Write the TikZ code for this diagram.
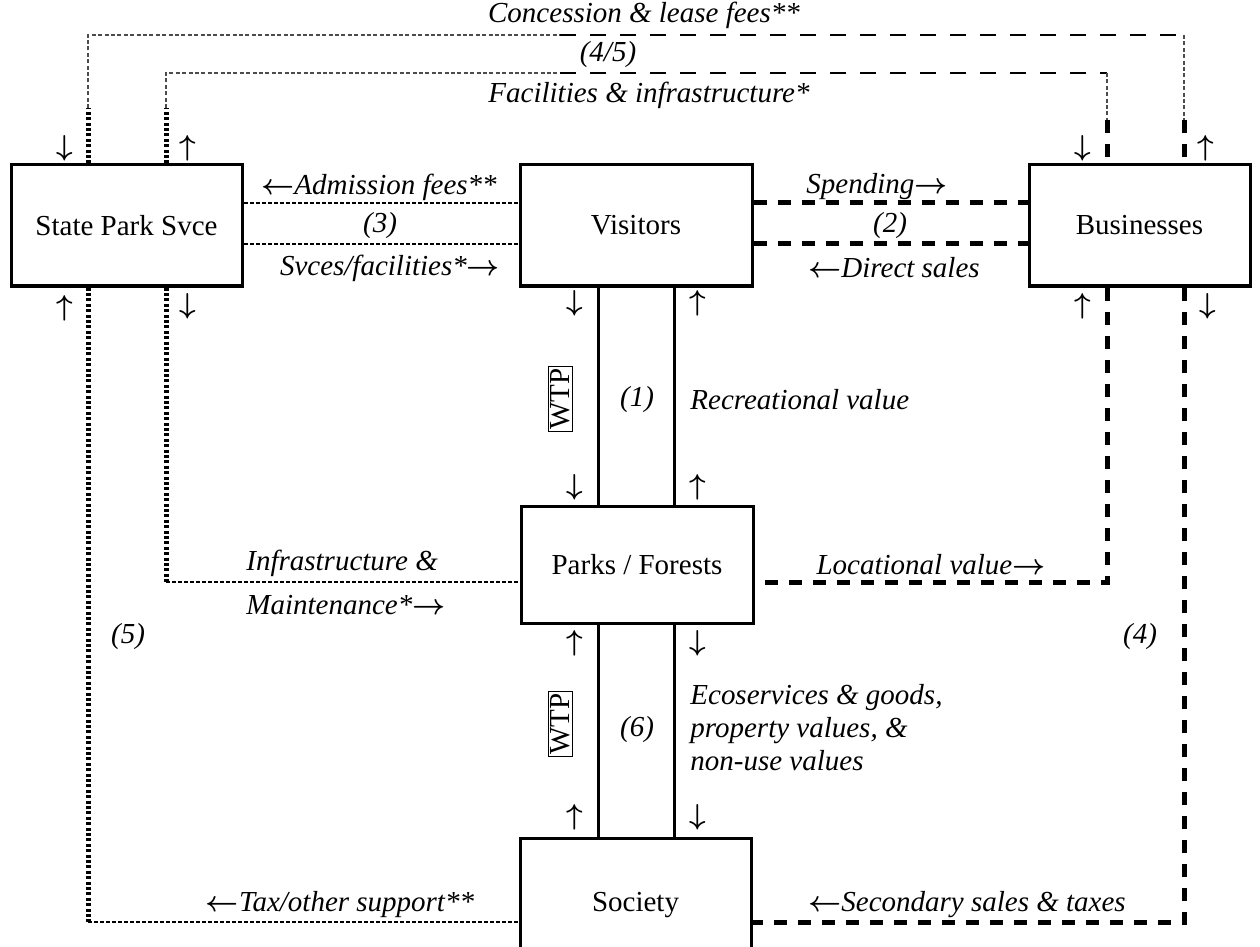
\documentclass[tikz,border=0pt]{standalone}
\usepackage{fontspec}
\setmainfont{Liberation Serif}
\newcommand{\ua}{{\boldmath$\uparrow$}}
\newcommand{\da}{{\boldmath$\downarrow$}}
\newcommand{\la}{{\boldmath$\leftarrow$}}
\newcommand{\ra}{{\boldmath$\rightarrow$}}
\begin{document}
\begin{tikzpicture}[x=0.5pt,y=-0.5pt,
  box/.style={draw,line width=1.5pt,inner sep=0pt,font=\fontsize{14.5pt}{16.5pt}\selectfont},
  lab/.style={inner sep=0pt,font=\fontsize{14.5pt}{16.5pt}\selectfont\itshape},
  rm/.style={inner sep=0pt,font=\fontsize{14.5pt}{16.5pt}\selectfont},
  solidln/.style={line width=1.5pt},
  bigdash/.style={line width=2.5pt,dash pattern=on 6.5pt off 5.5pt},
  smalldash/.style={line width=0.55pt,dash pattern=on 2pt off 1pt},
  dotline/.style={line width=2.5pt,dash pattern=on 1.5pt off 1.2pt},
  thindot/.style={line width=0.6pt,black!70,dash pattern=on 2pt off 1.2pt},
  longdash/.style={line width=0.6pt,dash pattern=on 8pt off 7pt},
]
\useasboundingbox (0,0) rectangle (1260,947);
\clip (0,0) rectangle (1260,947);

% boxes
\node[box,minimum width=115.5pt,minimum height=60.5pt] (sps) at (126.5,225.5) {State Park Svce};
\node[box,minimum width=116pt,minimum height=60.5pt] (vis) at (636,225.5) {Visitors};
\node[box,minimum width=110.5pt,minimum height=60.5pt] (bus) at (1139.5,225.5) {Businesses};
\node[box,minimum width=116pt,minimum height=58.5pt] (park) at (637,564.5) {Parks / Forests};
\node[box,minimum width=115.5pt,minimum height=67pt] (soc) at (635.5,905) {Society};

% helper coordinates
\coordinate (yA) at (0,203);
\coordinate (yB) at (0,244);
\coordinate (yT1) at (0,35);
\coordinate (yT2) at (0,73);
\coordinate (ySL) at (0,108);
\coordinate (ySR) at (0,120);
\coordinate (yMid) at (0,582);
\coordinate (yBot) at (0,922);
\coordinate (xL1) at (88,0);
\coordinate (xL2) at (166,0);
\coordinate (xR1) at (1107,0);
\coordinate (xR2) at (1184,0);
\coordinate (xW1) at (598,0);
\coordinate (xW2) at (674,0);
\coordinate (xS) at (560,0);

% solid connectors (1) and (6)
\draw[solidln] (vis.south -| xW1) -- (park.north -| xW1);
\draw[solidln] (vis.south -| xW2) -- (park.north -| xW2);
\draw[solidln] (park.south -| xW1) -- (soc.north -| xW1);
\draw[solidln] (park.south -| xW2) -- (soc.north -| xW2);

% (3) SPS - Visitors
\draw[smalldash] (sps.east |- yA) -- (vis.west |- yA);
\draw[smalldash] (sps.east |- yB) -- (vis.west |- yB);

% (2) Visitors - Businesses
\draw[bigdash] (vis.east |- yA) -- (bus.west |- yA);
\draw[bigdash] (vis.east |- yB) -- (bus.west |- yB);

% (5) SPS - Parks / Society
\draw[dotline] (sps.south -| xL2) -- (xL2 |- yMid);
\draw[smalldash] (xL2 |- yMid) -- (park.west |- yMid);
\draw[dotline] (sps.south -| xL1) -- (xL1 |- yBot);
\draw[smalldash] (xL1 |- yBot) -- (soc.west |- yBot);

% (4) Businesses - Parks / Society
\draw[bigdash] (bus.south -| xR1) |- (park.east |- yMid);
\draw[bigdash] (bus.south -| xR2) |- (soc.east |- yBot);

% (4/5) SPS - Businesses (top)
\draw[dotline] (sps.north -| xL1) -- (xL1 |- ySL);
\draw[thindot] (xL1 |- ySL) |- (xS |- yT1);
\draw[longdash] (xS |- yT1) -- (xR2 |- yT1);
\draw[thindot] (xR2 |- yT1) -- (xR2 |- ySR);
\draw[bigdash] (xR2 |- ySR) -- (bus.north -| xR2);

\draw[dotline] (sps.north -| xL2) -- (xL2 |- ySL);
\draw[thindot] (xL2 |- ySL) |- (xS |- yT2);
\draw[longdash] (xS |- yT2) -- (xR1 |- yT2);
\draw[thindot] (xR1 |- yT2) -- (xR1 |- ySR);
\draw[bigdash] (xR1 |- ySR) -- (bus.north -| xR1);

% direction arrows
\node[rm] (a1) at (65,148) {\da};
\node[rm] (a2) at (188,148) {\ua};
\node[rm] (a3) at (65,308) {\ua};
\node[rm] (a4) at (188,306) {\da};
\node[rm] (a5) at (1083,148) {\da};
\node[rm] (a6) at (1206,148) {\ua};
\node[rm] (a7) at (1083,306) {\ua};
\node[rm] (a8) at (1208,306) {\da};
\node[rm] (a9) at (575,303) {\da};
\node[rm] (a10) at (575,487) {\da};
\node[rm] (a11) at (698,303) {\ua};
\node[rm] (a12) at (698,487) {\ua};
\node[rm] (a13) at (575,643) {\ua};
\node[rm] (a14) at (575,817) {\ua};
\node[rm] (a15) at (698,643) {\da};
\node[rm] (a16) at (698,817) {\da};

% WTP boxes
\node[rm,draw,line width=0.5pt,rotate=90,inner sep=1pt] (wtp1) at (560.5,399) {WTP};
\node[rm,draw,line width=0.5pt,rotate=90,inner sep=1pt] (wtp2) at (560.5,724) {WTP};

% labels
\node[lab] (tConc) at (644,15) {Concession \& lease fees**};
\node[lab] (t45) at (608,55) {(4/5)};
\node[lab] (tFac) at (649,95) {Facilities \& infrastructure*};
\node[lab] (tAdm) at (379,187) {\la Admission fees**};
\node[lab] (t3) at (380,226) {(3)};
\node[lab] (tSvc) at (390,268) {Svces/facilities*\ra};
\node[lab] (tSpend) at (877,187) {Spending\ra};
\node[lab] (t2) at (890,226) {(2)};
\node[lab] (tDir) at (894,268) {\la Direct sales};
\node[lab,anchor=west] (tInf) at (246,563) {Infrastructure \&};
\node[lab,anchor=west] (tMai) at (246,605) {Maintenance*\ra};
\node[lab] (t5) at (128,637) {(5)};
\node[lab] (t4) at (1140,637) {(4)};
\node[lab] (tLoc) at (931,565) {Locational value\ra};
\node[lab] (t1) at (637,400) {(1)};
\node[lab,anchor=west] (tRec) at (690,400) {Recreational value};
\node[lab] (t6) at (637,730) {(6)};
\node[lab,anchor=west,align=left] (tEco) at (690,728) {Ecoservices \& goods,\\property values, \&\\non-use values};
\node[lab] (tTax) at (340,905) {\la Tax/other support**};
\node[lab] (tSec) at (967,905) {\la Secondary sales \& taxes};
\end{tikzpicture}
\end{document}
